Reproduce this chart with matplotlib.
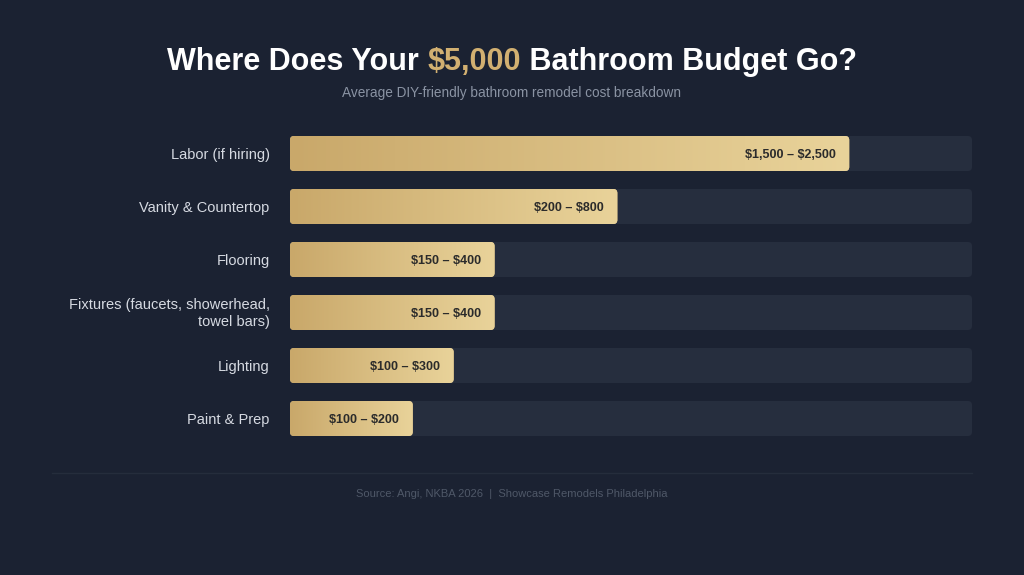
import numpy as np
import matplotlib
matplotlib.use("Agg")
import matplotlib.pyplot as plt
from matplotlib.patches import FancyBboxPatch
from matplotlib.colors import LinearSegmentedColormap

categories = ["Labor (if hiring)", "Vanity & Countertop", "Flooring",
              "Fixtures (faucets, showerhead,\ntowel bars)", "Lighting", "Paint & Prep"]
bar_pct = [82, 48, 30, 30, 24, 18]   # bar length as % of the track
value_labels = ["$1,500 – $2,500", "$200 – $800", "$150 – $400",
                "$150 – $400", "$100 – $300", "$100 – $200"]

bg = "#1b2232"
track = "#262e3e"
gold = LinearSegmentedColormap.from_list("gold", ["#c9a86a", "#e9d39a"])

plt.rcParams['font.family'] = ['Liberation Sans', 'DejaVu Sans']
plt.rcParams['text.parse_math'] = False

fig = plt.figure(figsize=(10.24, 5.75), dpi=100, facecolor=bg)
ax = fig.add_axes([290/1024, (575-436)/575, 682/1024, 300/575])
ax.set_facecolor(bg)

bh = 35/53
ax.axis("off")

aspect = (682/100) / 53   # x px per unit / y px per unit
r = 0.6
grad = np.linspace(0, 1, 256).reshape(1, -1)
for i, (p, lab) in enumerate(zip(bar_pct, value_labels)):
    tr = FancyBboxPatch((0, i - bh/2), 100, bh,
                        boxstyle=f"round,pad=0,rounding_size={r}",
                        mutation_aspect=aspect, fc=track, ec="none")
    ax.add_patch(tr)
    bar = FancyBboxPatch((0, i - bh/2), p, bh,
                         boxstyle=f"round,pad=0,rounding_size={r}",
                         mutation_aspect=aspect, fc="#d8bb80", ec="none")
    ax.add_patch(bar)
    im = ax.imshow(grad, cmap=gold, aspect="auto",
                   extent=(0, p, i + bh/2, i - bh/2), zorder=3)
    im.set_clip_path(bar)
    ax.text(p - 2.0, i + 0.03, lab, ha="right", va="center", fontsize=9,
            fontweight="bold", color="#2b2b2b", zorder=4)
    ax.text(-3.0, i + 0.02, categories[i], ha="right", va="center", fontsize=10.5,
            color="#d6dae2", linespacing=1.35)
ax.set_xlim(0, 100)
ax.set_ylim(len(categories) - 1 + bh/2, -bh/2)

# title in three colored pieces
parts = [("Where Does Your ", "white"), ("$5,000", "#d2b071"),
         (" Bathroom Budget Go?", "white")]
fig.canvas.draw()
renderer = fig.canvas.get_renderer()
texts = []
for s, c in parts:
    t = fig.text(0, 1 - 62/575, s, fontsize=22, fontweight="bold", color=c,
                 va="center", ha="left")
    texts.append(t)
widths = [t.get_window_extent(renderer).width for t in texts]
x = 512 - sum(widths)/2
for t, w in zip(texts, widths):
    t.set_x(x/1024)
    x += w

fig.text(512/1024, 1 - 93/575, "Average DIY-friendly bathroom remodel cost breakdown",
         ha="center", va="center", fontsize=9.8, color="#8a93a3")

fig.add_artist(plt.Line2D([52/1024, 972/1024], [1 - 473/575, 1 - 473/575],
                          color="#252d3c", lw=1))
fig.text(512/1024, 1 - 494/575, "Source: Angi, NKBA 2026  |  Showcase Remodels Philadelphia",
         ha="center", va="center", fontsize=8, color="#4f5868")

fig.savefig("out.png", dpi=100, facecolor=bg)
